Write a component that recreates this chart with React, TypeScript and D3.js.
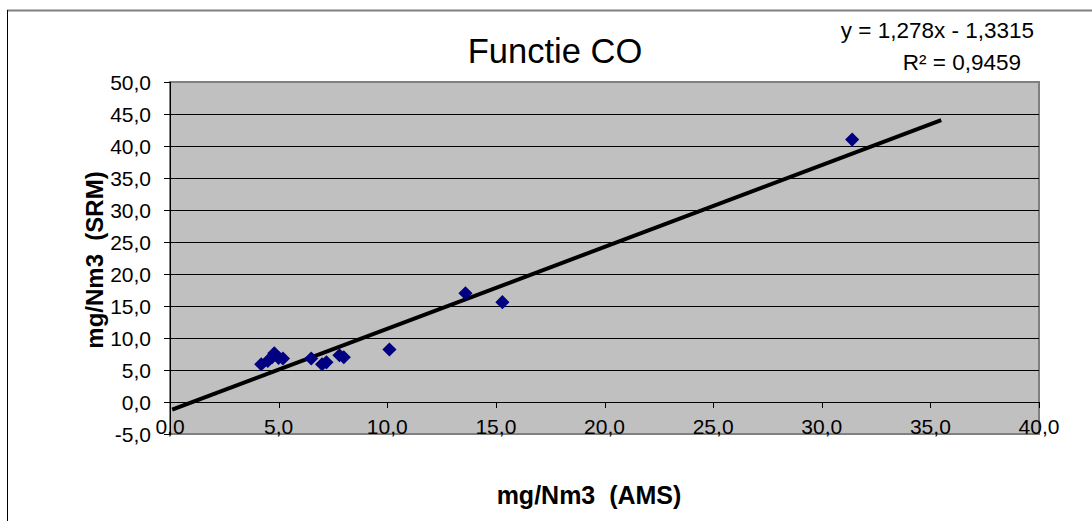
import React from 'react';
import * as d3 from 'd3';

// AMS (x) vs SRM (y) measurements, mg/Nm3
const amsValues = [4.2, 4.5, 4.7, 4.8, 5.0, 5.2, 6.5, 7.0, 7.2, 7.8, 8.0, 10.1, 13.6, 15.3, 31.4];
const srmValues = [5.9, 6.4, 7.0, 7.6, 6.9, 6.8, 6.8, 5.9, 6.2, 7.3, 7.0, 8.2, 17.0, 15.6, 41.0];

const xTicks = [0, 5, 10, 15, 20, 25, 30, 35, 40];
const yTicks = [-5, 0, 5, 10, 15, 20, 25, 30, 35, 40, 45, 50];

// linear trendline y = 1.278x - 1.3315, drawn over this x range
const trendSlope = 1.278;
const trendIntercept = -1.3315;
const trendRange = [0.1, 35.5];

const title = 'Functie CO';
const equationText = 'y = 1,278x - 1,3315';
const r2Text = 'R² = 0,9459';
const xTitle = 'mg/Nm3  (AMS)';
const yTitle = 'mg/Nm3  (SRM)';

const W = 1092;
const H = 521;
const plot = { left: 170, right: 1039, top: 82, bottom: 434 };
const font = 'Arial, "Liberation Sans", sans-serif';

const fmt = (v: number) => v.toFixed(1).replace('.', ',');

export default function App() {
  const x = d3.scaleLinear().domain([0, 40]).range([plot.left, plot.right]);
  const y = d3.scaleLinear().domain([-5, 50]).range([plot.bottom, plot.top]);

  const points = amsValues.map((v, i) => ({ x: v, y: srmValues[i] }));
  const trend = trendRange.map((v) => ({ x: v, y: trendSlope * v + trendIntercept }));
  const line = d3
    .line<{ x: number; y: number }>()
    .x((d) => x(d.x))
    .y((d) => y(d.y));
  const diamond = d3.symbol().type(d3.symbolSquare).size(100)();

  return (
    <svg
      width={W}
      height={H}
      style={{ position: 'absolute', left: 0, top: 0, display: 'block' }}
      fontFamily={font}
    >
      <rect x={0} y={0} width={W} height={H} fill="#fff" />
      {/* chart frame, runs off the picture at right and bottom */}
      <line x1={7} x2={W} y1={10.5} y2={10.5} stroke="#808080" strokeWidth={2} />
      <line x1={7.5} x2={7.5} y1={10} y2={H} stroke="#000" strokeWidth={1} />

      <text x={555} y={63} fontSize={34.5} textAnchor="middle" fill="#000">
        {title}
      </text>
      <text x={1034} y={38} fontSize={22.5} textAnchor="end" fill="#000">
        {equationText}
      </text>
      <text x={1021} y={70} fontSize={22.5} textAnchor="end" fill="#000">
        {r2Text}
      </text>

      {/* plot area */}
      <rect
        x={plot.left}
        y={plot.top}
        width={plot.right - plot.left}
        height={plot.bottom - plot.top}
        fill="#c0c0c0"
        stroke="#808080"
        strokeWidth={2}
      />
      {yTicks
        .filter((t) => t > -5 && t < 50)
        .map((t) => (
          <line
            key={'g' + t}
            x1={plot.left}
            x2={plot.right}
            y1={Math.round(y(t)) + 0.5}
            y2={Math.round(y(t)) + 0.5}
            stroke="#000"
            strokeWidth={1}
          />
        ))}

      {/* y axis */}
      <line x1={plot.left + 0.5} x2={plot.left + 0.5} y1={plot.top} y2={plot.bottom + 1} stroke="#000" />
      {yTicks.map((t) => (
        <g key={'y' + t}>
          <line
            x1={plot.left - 6}
            x2={plot.left}
            y1={Math.round(y(t)) + 0.5}
            y2={Math.round(y(t)) + 0.5}
            stroke="#000"
          />
          <text x={151} y={y(t)} dy="0.36em" fontSize={21} textAnchor="end" fill="#000">
            {fmt(t)}
          </text>
        </g>
      ))}

      {/* x axis at y = 0 */}
      {xTicks.map((t) => (
        <g key={'x' + t}>
          <line
            x1={Math.round(x(t)) + 0.5}
            x2={Math.round(x(t)) + 0.5}
            y1={y(0)}
            y2={y(0) + 6}
            stroke="#000"
          />
          <text x={x(t)} y={434} fontSize={21} textAnchor="middle" fill="#000">
            {fmt(t)}
          </text>
        </g>
      ))}

      {/* trendline */}
      <path d={line(trend) ?? ''} fill="none" stroke="#000" strokeWidth={4} />

      {/* markers */}
      {points.map((p, i) => (
        <path
          key={'p' + i}
          d={diamond ?? ''}
          transform={`translate(${x(p.x)},${y(p.y)}) rotate(45)`}
          fill="#000080"
        />
      ))}

      <text
        x={589}
        y={504}
        fontSize={25}
        fontWeight="bold"
        textAnchor="middle"
        fill="#000"
        style={{ whiteSpace: 'pre' }}
      >
        {xTitle}
      </text>
      <text
        transform={`translate(103,${(plot.top + plot.bottom) / 2 + 2}) rotate(-90)`}
        fontSize={24}
        fontWeight="bold"
        textAnchor="middle"
        fill="#000"
        style={{ whiteSpace: 'pre' }}
      >
        {yTitle}
      </text>
    </svg>
  );
}
